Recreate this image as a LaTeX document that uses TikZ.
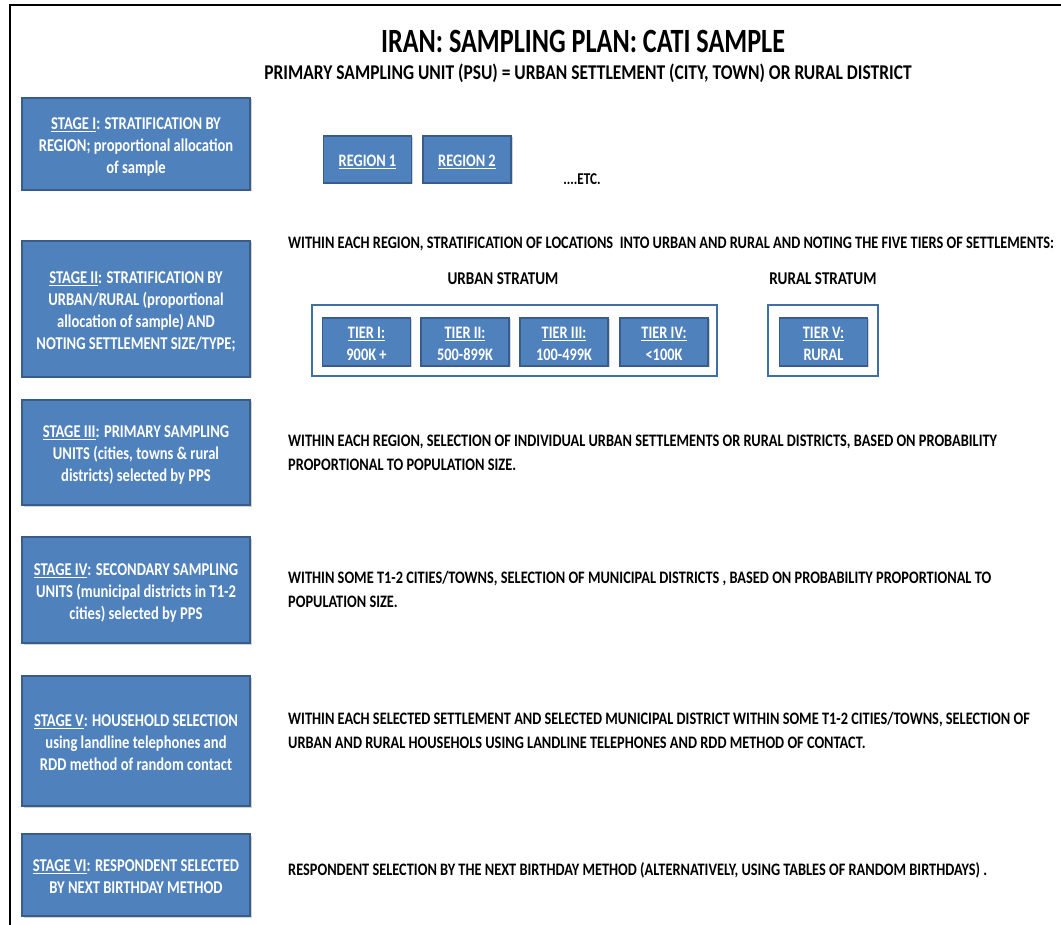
\documentclass[tikz,border=0pt]{standalone}
\usepackage{fontspec}
\setmainfont{Carlito}
\usepackage{graphicx}
\usetikzlibrary{shadows}
\definecolor{boxblue}{HTML}{4F81BD}
\definecolor{boxedge}{HTML}{385D8A}
\definecolor{frameblue}{HTML}{3F6FA3}
\newcommand\sqz[2][0.81]{\raisebox{-3pt}[\height][\depth]{\scalebox{#1}[1]{\begin{tabular}{@{}c@{}}#2\end{tabular}}}}
\newcommand\sql[2][0.82]{\scalebox{#1}[1]{\begin{tabular}[t]{@{}l@{}}#2\end{tabular}}}
\tikzset{
  stagebox/.style={rectangle, fill=boxblue, draw=boxedge, line width=1.5pt,
    minimum width=228pt, inner sep=0pt, text=white,
    font=\bfseries\fontsize{18}{22}\selectfont,
    drop shadow={opacity=0.35, shadow xshift=1.5pt, shadow yshift=-1.5pt}},
  smallbox/.style={rectangle, fill=boxblue, draw=boxedge, line width=1.5pt,
    minimum width=88pt, minimum height=48pt, inner sep=0pt, text=white,
    font=\bfseries\fontsize{17.5}{22}\selectfont,
    drop shadow={opacity=0.35, shadow xshift=1.5pt, shadow yshift=-1.5pt}},
  stratumbox/.style={rectangle, draw=frameblue, line width=2.5pt, fill=white,
    inner sep=0pt},
  bodytext/.style={anchor=base west, inner sep=0pt,
    font=\bfseries\fontsize{17.5}{24}\selectfont},
  labeltext/.style={anchor=center, inner sep=0pt,
    font=\bfseries\fontsize{18}{24}\selectfont},
}
\begin{document}
\begin{tikzpicture}[x=1pt, y=-1pt]
\useasboundingbox (0,0) rectangle (1061,925);
\fill[white] (0,0) rectangle (1061,925);
% frame
\draw[line width=2.5pt] (10,925) -- (10,5) -- (1061,5);
% title
\node[inner sep=0pt, font=\bfseries\fontsize{34}{40}\selectfont] (title) at (583,41)
  {\scalebox{0.77}[1]{IRAN: SAMPLING PLAN: CATI SAMPLE}};
\node[inner sep=0pt, font=\bfseries\fontsize{21}{24}\selectfont] (subtitle) at (588,73)
  {\scalebox{0.83}[1]{PRIMARY SAMPLING UNIT (PSU) = URBAN SETTLEMENT (CITY, TOWN) OR RURAL DISTRICT}};
% stage boxes
\node[stagebox, minimum height=92pt] (s1) at (136,144)
  {\sqz{\underline{STAGE I}: STRATIFICATION BY\\REGION; proportional allocation\\of sample}};
\node[stagebox, minimum height=136pt] (s2) at (136,309)
  {\sqz{\underline{STAGE II}: STRATIFICATION BY\\URBAN/RURAL (proportional\\allocation of sample) AND\\NOTING SETTLEMENT SIZE/TYPE;}};
\node[stagebox, minimum height=105pt] (s3) at (136,452.5)
  {\sqz{\underline{STAGE III}: PRIMARY SAMPLING\\UNITS (cities, towns \& rural\\districts) selected by PPS}};
\node[stagebox, minimum height=106pt] (s4) at (136,590)
  {\sqz{\underline{STAGE IV}: SECONDARY SAMPLING\\UNITS (municipal districts in T1-2\\cities) selected by PPS}};
\node[stagebox, minimum height=130pt] (s5) at (136,741)
  {\sqz{\underline{STAGE V}: HOUSEHOLD SELECTION\\using landline telephones and\\RDD method of random contact}};
\node[stagebox, minimum height=82pt] (s6) at (136,875)
  {\sqz{\underline{STAGE VI}: RESPONDENT SELECTED\\BY NEXT BIRTHDAY METHOD}};
% stage I row
\node[smallbox, minimum height=47pt] (r1) at (367.5,159.5) {\sqz[0.82]{\underline{REGION 1}}};
\node[smallbox, minimum height=47pt] (r2) at (467,159.5) {\sqz[0.82]{\underline{REGION 2}}};
\node[inner sep=0pt, font=\bfseries\fontsize{16.5}{24}\selectfont] (etc) at (582,179) {\scalebox{0.8}[1]{....ETC.}};
% stage II row
\node[bodytext] (t2) at (288,248.5)
  {\sql{WITHIN EACH REGION, STRATIFICATION OF LOCATIONS\ \ INTO URBAN AND RURAL AND NOTING THE FIVE TIERS OF SETTLEMENTS:}};
\node[labeltext] (urbl) at (503,279) {\scalebox{0.84}[1]{URBAN STRATUM}};
\node[labeltext] (rurl) at (823,279) {\scalebox{0.84}[1]{RURAL STRATUM}};
\node[stratumbox, minimum width=405pt, minimum height=71pt] (urban) at (514.5,340.5) {};
\node[stratumbox, minimum width=110pt, minimum height=71pt] (rural) at (823,340.5) {};
\node[smallbox] (t1) at (366.5,342) {\sqz[0.82]{\underline{TIER I:}\\900K +}};
\node[smallbox] (tt2) at (465,342) {\sqz[0.82]{\underline{TIER II:}\\500-899K}};
\node[smallbox] (t3) at (564,342) {\sqz[0.82]{\underline{TIER III:}\\100-499K}};
\node[smallbox] (t4) at (664,342) {\sqz[0.82]{\underline{TIER IV:}\\<100K}};
\node[smallbox] (t5) at (823.5,342) {\sqz[0.82]{\underline{TIER V:}\\RURAL}};
% stage III-VI text
\node[bodytext] (t3txt) at (288,446.5)
  {\sql{WITHIN EACH REGION, SELECTION OF INDIVIDUAL URBAN SETTLEMENTS OR RURAL DISTRICTS, BASED ON PROBABILITY\\PROPORTIONAL TO POPULATION SIZE.}};
\node[bodytext] (t4txt) at (288,583.5)
  {\sql{WITHIN SOME T1-2 CITIES/TOWNS, SELECTION OF MUNICIPAL DISTRICTS , BASED ON PROBABILITY PROPORTIONAL TO\\POPULATION SIZE.}};
\node[bodytext] (t5txt) at (288,724.5)
  {\sql{WITHIN EACH SELECTED SETTLEMENT AND SELECTED MUNICIPAL DISTRICT WITHIN SOME T1-2 CITIES/TOWNS, SELECTION OF\\URBAN AND RURAL HOUSEHOLS USING LANDLINE TELEPHONES AND RDD METHOD OF CONTACT.}};
\node[bodytext] (t6txt) at (288,875.5)
  {\sql{RESPONDENT SELECTION BY THE NEXT BIRTHDAY METHOD (ALTERNATIVELY, USING TABLES OF RANDOM BIRTHDAYS) .}};
\end{tikzpicture}
\end{document}
